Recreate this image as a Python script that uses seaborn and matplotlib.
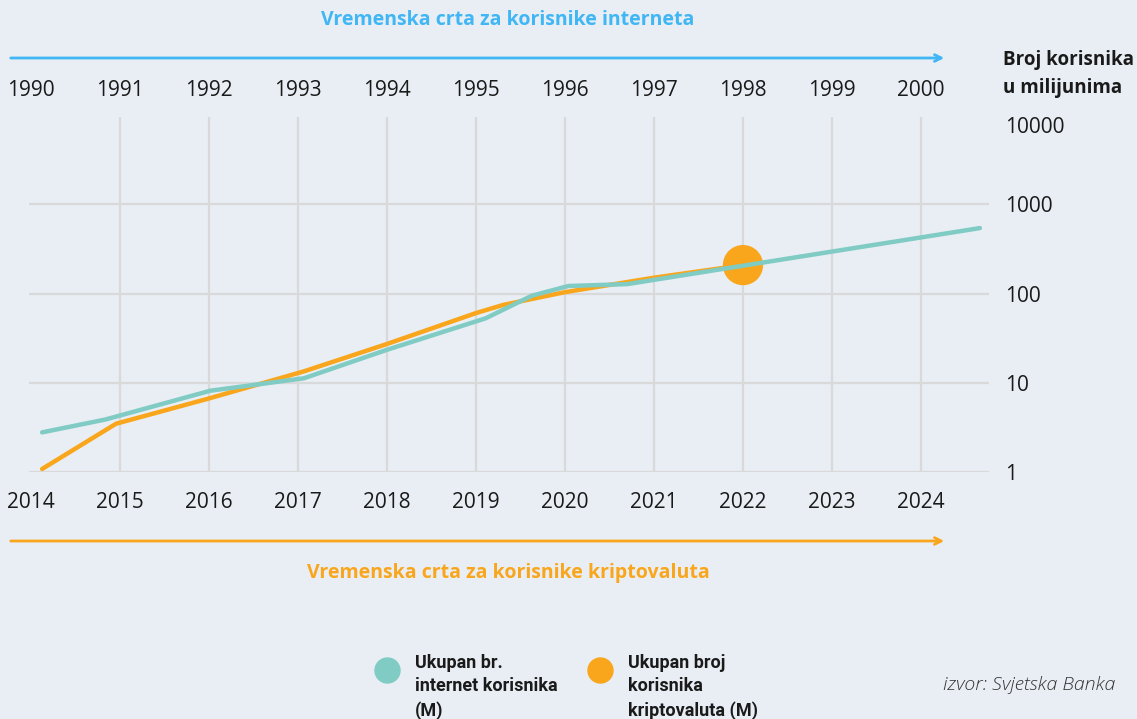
import matplotlib
matplotlib.use("Agg")
import matplotlib.pyplot as plt
from matplotlib.lines import Line2D
from matplotlib.ticker import NullLocator
import pandas as pd
import seaborn as sns

# data (x = position on the 2014-2024 timeline)
internet_years = [2014.13, 2014.84, 2016.02, 2017.07, 2018.0, 2019.11, 2019.63, 2020.04, 2020.70, 2024.66]
internet_users = [2.8, 3.9, 8.2, 11.3, 23.5, 53, 95, 122, 128, 543]
crypto_years = [2014.13, 2014.96, 2016.0, 2017.07, 2018.0, 2019.0, 2019.31, 2020.0, 2021.0, 2022.0]
crypto_users = [1.09, 3.5, 6.7, 13.5, 27.3, 60.6, 75, 104, 151, 209]
dot_year = [2022]
dot_users = [209]

crypto_ticks = list(range(2014, 2025))
internet_ticks = list(range(1990, 2001))
y_ticks = [1, 10, 100, 1000]
y_labels = ["1", "10", "100", "1000"]

bg = "#e8eef4"
teal = "#80cbc4"
orange = "#f9a61c"
blue = "#40b6f5"
text_col = "#1a1a1a"

sns.set_theme(style="whitegrid", rc={
    "axes.facecolor": bg,
    "figure.facecolor": bg,
    "grid.color": "#d9d9d9",
    "grid.linewidth": 1.6,
})
plt.rcParams["font.family"] = ["Open Sans", "DejaVu Sans"]

W, H = 1137, 719
fig = plt.figure(figsize=(W / 100, H / 100), dpi=100)
ax = fig.add_axes([28.6 / W, 1 - 472.3 / H, 960 / W, 355.6 / H])

df_crypto = pd.DataFrame({"godina": crypto_years, "korisnici": crypto_users})
df_int = pd.DataFrame({"godina": internet_years, "korisnici": internet_users})
df_dot = pd.DataFrame({"godina": dot_year, "korisnici": dot_users})

sns.lineplot(data=df_crypto, x="godina", y="korisnici", color=orange, lw=3.2,
             estimator=None, sort=False, ax=ax)
sns.scatterplot(data=df_dot, x="godina", y="korisnici", color=orange, s=840,
                edgecolor="none", ax=ax, zorder=3)
sns.lineplot(data=df_int, x="godina", y="korisnici", color=teal, lw=3.2,
             estimator=None, sort=False, ax=ax, zorder=4)

ax.set_yscale("log")
ax.set_ylim(1, 10 ** 3.982)
ax.set_xlim(2013.978, 2024.758)
ax.set_xlabel("")
ax.set_ylabel("")
for s in ax.spines.values():
    s.set_visible(False)

ax.set_xticks(crypto_ticks)
ax.set_xticklabels([str(y) for y in crypto_ticks])
ax.set_yticks(y_ticks)
ax.set_yticklabels(y_labels)
ax.yaxis.set_minor_locator(NullLocator())
ax.yaxis.tick_right()
ax.tick_params(axis="x", length=0, pad=14, labelsize=15, labelcolor=text_col)
ax.tick_params(axis="y", length=0, pad=12, labelsize=15, labelcolor=text_col)
for lab in ax.get_yticklabels():
    lab.set_horizontalalignment("left")
ax.grid(True)
ax.xaxis.get_gridlines()[0].set_visible(False)

top = ax.secondary_xaxis("top")
top.set_xticks(crypto_ticks)
top.set_xticklabels([str(y) for y in internet_ticks])
top.tick_params(length=0, pad=11, labelsize=15, labelcolor=text_col)
for s in top.spines.values():
    s.set_visible(False)

ax.text(1.0171, 1 - (127.7 - 116.7) / 355.6, "10000", transform=ax.transAxes,
        ha="left", va="center", fontsize=15, color=text_col)

fig.text(1003 / W, 1 - 74 / H, "Broj korisnika\nu milijunima", ha="left", va="center",
         fontsize=13.5, weight="bold", color=text_col, linespacing=1.6)

fig.text(508 / W, 1 - 20 / H, "Vremenska crta za korisnike interneta", ha="center",
         va="center", fontsize=14, weight="bold", color=blue)
fig.text(508 / W, 1 - 573 / H, "Vremenska crta za korisnike kriptovaluta", ha="center",
         va="center", fontsize=14, weight="bold", color=orange)

ax.annotate("", xy=(947 / W, 1 - 58 / H), xytext=(8 / W, 1 - 58 / H),
            xycoords="figure fraction", textcoords="figure fraction",
            arrowprops=dict(arrowstyle="->", color=blue, lw=2, mutation_scale=12))
ax.annotate("", xy=(947 / W, 1 - 541 / H), xytext=(8 / W, 1 - 541 / H),
            xycoords="figure fraction", textcoords="figure fraction",
            arrowprops=dict(arrowstyle="->", color=orange, lw=2, mutation_scale=12))

handles = [
    Line2D([], [], ls="", marker="o", markersize=19, markerfacecolor=teal, markeredgecolor="none"),
    Line2D([], [], ls="", marker="o", markersize=19, markerfacecolor=orange, markeredgecolor="none"),
]
labels = ["Ukupan br.\ninternet korisnika\n(M)", "Ukupan broj\nkorisnika\nkriptovaluta (M)"]
leg = fig.legend(handles, labels, ncol=2, loc="upper left", bbox_to_anchor=(374 / W, 1 - 654 / H),
                 frameon=False, handlelength=1.4, handleheight=4.1, handletextpad=0.85,
                 columnspacing=1.65, borderpad=0, borderaxespad=0,
                 prop={"family": ["Roboto"], "weight": "bold", "size": 13})
for t in leg.get_texts():
    t.set_linespacing(1.39)
    t.set_color(text_col)
# put the circles level with the first lines, as in the reference
for col in leg._legend_handle_box.get_children():
    for item in col.get_children():
        item.align = "top"

fig.text(1115 / W, 1 - 685 / H, "izvor: Svjetska Banka", ha="right", va="center",
         fontsize=14, style="italic", weight="light", color="#333333")

fig.savefig("out.png", dpi=100, facecolor=bg)
